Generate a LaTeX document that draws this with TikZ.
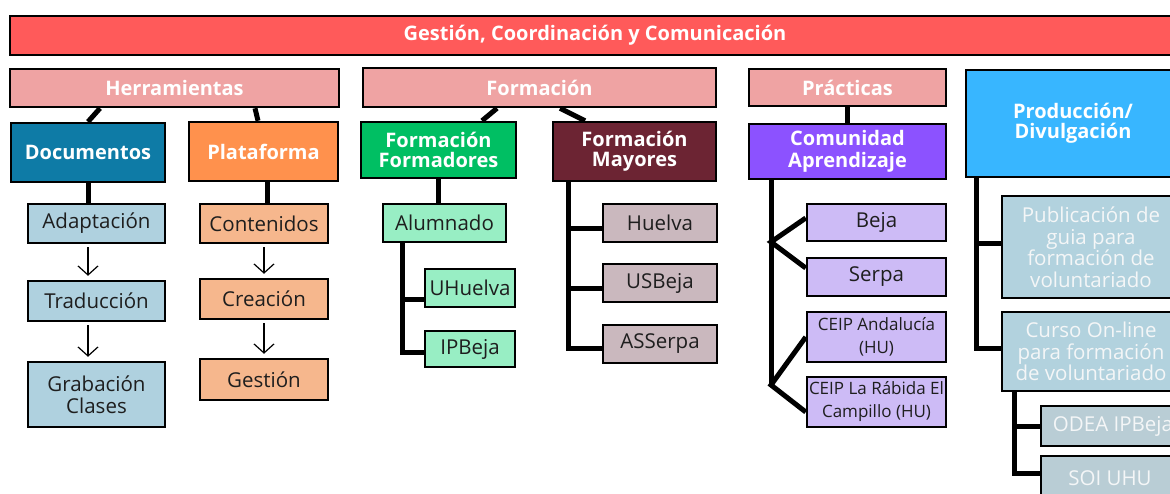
\documentclass[tikz,border=0pt]{standalone}
\usepackage{fontspec}
\setmainfont{Open Sans}
\usepackage{xcolor}
\usetikzlibrary{arrows.meta, positioning}

\definecolor{titlered}{HTML}{FF5A5A}
\definecolor{headpink}{HTML}{EFA3A3}
\definecolor{docsblue}{HTML}{0E7BA6}
\definecolor{platorange}{HTML}{FF914D}
\definecolor{ffgreen}{HTML}{00BF63}
\definecolor{fmmaroon}{HTML}{6C2433}
\definecolor{capurple}{HTML}{8C52FF}
\definecolor{prodblue}{HTML}{38B6FF}
\definecolor{lightblue}{HTML}{AFD1DF}
\definecolor{lightorange}{HTML}{F6B78D}
\definecolor{lightgreen}{HTML}{98EEC4}
\definecolor{lightmauve}{HTML}{CAB8BE}
\definecolor{lightviolet}{HTML}{CDBBF6}
\definecolor{pubblue}{HTML}{B2D2DE}
\definecolor{subgray}{HTML}{B9CDD5}
\definecolor{txtdark}{HTML}{1E1E1E}
\definecolor{txtlight}{HTML}{F4F6F7}

\tikzset{
    box/.style={draw=black, line width=2.5pt, inner sep=0pt, align=center,
        text=txtdark, font=\fontsize{20.5}{21.5}\selectfont},
    headbox/.style={box, text=white, font=\bfseries\fontsize{20}{20}\selectfont},
    smallbox/.style={box, font=\fontsize{17}{23}\selectfont},
    palebox/.style={box, text=txtlight, font=\fontsize{20.5}{21.5}\selectfont},
    link/.style={line width=5pt},
    flow/.style={-{Straight Barb[length=9pt,width=20pt]}, line width=1.2pt,
        shorten <=3pt, shorten >=4pt},
}

\begin{document}
\begin{tikzpicture}[x=1pt, y=-1pt]
    \fill[white] (0,0) rectangle (1170,493);
    \useasboundingbox (0,0) rectangle (1170,493);
    \clip (0,0) rectangle (1170,493);

    % top bar and the four areas
    \node[headbox, fill=titlered, minimum width=1170, minimum height=39] (title) at (595,35.5)
        {Gestión, Coordinación y Comunicación};
    \node[headbox, fill=headpink, minimum width=329, minimum height=38] (herr) at (174.5,88) {Herramientas};
    \node[headbox, fill=headpink, minimum width=353, minimum height=39] (form) at (539.5,87.5) {Formación};
    \node[headbox, fill=headpink, minimum width=197, minimum height=37] (prac) at (847.5,87.5) {Prácticas};
    \node[headbox, fill=prodblue, minimum width=214, minimum height=107] (prod) at (1073,123.5)
        {Producción/\\Divulgación};

    % second level
    \node[headbox, fill=docsblue, minimum width=154, minimum height=59] (docs) at (88,152.5) {Documentos};
    \node[headbox, fill=platorange, minimum width=149, minimum height=59] (plat) at (263.5,151.5) {Plataforma};
    \node[headbox, fill=ffgreen, minimum width=155, minimum height=56] (ffor) at (438.5,150)
        {Formación\\Formadores};
    \node[headbox, fill=fmmaroon, minimum width=163, minimum height=59] (fmay) at (634.5,151.5)
        {Formación\\Mayores};
    \node[headbox, fill=capurple, font=\bfseries\fontsize{20}{21.5}\selectfont,
        minimum width=197, minimum height=55] (comu) at (847.5,151.5) {Comunidad\\Aprendizaje};

    % Herramientas
    \node[box, fill=lightblue, minimum width=137, minimum height=39] (adap) at (96.5,223.5) {Adaptación};
    \node[box, fill=lightblue, minimum width=137, minimum height=40] (trad) at (96.5,301) {Traducción};
    \node[box, fill=lightblue, minimum width=137, minimum height=65] (grab) at (96.5,394.5) {Grabación\\Clases};
    \node[box, fill=lightorange, minimum width=128, minimum height=39] (cont) at (264,223.5) {Contenidos};
    \node[box, fill=lightorange, minimum width=128, minimum height=40] (crea) at (264,299) {Creación};
    \node[box, fill=lightorange, minimum width=128, minimum height=41] (gest) at (264,379.5) {Gestión};

    % Formacion
    \node[box, fill=lightgreen, minimum width=123, minimum height=38] (alum) at (444.5,223) {Alumnado};
    \node[box, fill=lightgreen, minimum width=90, minimum height=38] (uhue) at (470,288) {UHuelva};
    \node[box, fill=lightgreen, minimum width=90, minimum height=36] (ipbe) at (470,349) {IPBeja};
    \node[box, fill=lightmauve, minimum width=114, minimum height=38] (huel) at (660,223) {Huelva};
    \node[box, fill=lightmauve, minimum width=114, minimum height=38] (usbe) at (660,283) {USBeja};
    \node[box, fill=lightmauve, minimum width=114, minimum height=38] (asse) at (660,344) {ASSerpa};

    % Practicas
    \node[box, fill=lightviolet, minimum width=139, minimum height=37] (beja) at (876.5,222.5) {Beja};
    \node[box, fill=lightviolet, minimum width=139, minimum height=38] (serp) at (876.5,277) {Serpa};
    \node[smallbox, fill=lightviolet, minimum width=139, minimum height=50] (ceia) at (876.5,337)
        {CEIP Andalucía\\(HU)};
    \node[smallbox, fill=lightviolet, minimum width=139, minimum height=50] (ceir) at (876.5,402)
        {CEIP La Rábida El\\Campillo (HU)};

    % Produccion
    \node[palebox, fill=pubblue, minimum width=178, minimum height=102] (publ) at (1091,247)
        {Publicación de\\guia para\\formación de\\voluntariado};
    \node[palebox, fill=pubblue, minimum width=178, minimum height=79] (curs) at (1091,351.5)
        {Curso On-line\\para formación\\de voluntariado};
    \node[palebox, fill=subgray, minimum width=144, minimum height=40] (odea) at (1113,426) {ODEA IPBeja};
    \node[palebox, fill=subgray, minimum width=138, minimum height=44] (soiu) at (1110,478) {SOI UHU};

    % connectors
    \draw[link] ([xshift=12pt]docs.north |- herr.south) -- (docs.north);
    \draw[link] ([xshift=-8.5pt]plat.north |- herr.south) -- ([xshift=-5.5pt]plat.north);
    \draw[link] ([xshift=58.5pt]ffor.north |- form.south) -- ([xshift=43.5pt]ffor.north);
    \draw[link] ([xshift=-74.5pt]fmay.north |- form.south) -- ([xshift=-49.5pt]fmay.north);
    \draw[link] (prac.south) -- (comu.north);

    \draw[link] (docs.south) -- (docs.south |- adap.north);
    \draw[link] ([xshift=3.5pt]plat.south) -- ([xshift=3.5pt]plat.south |- cont.north);
    \draw[link] (ffor.south) -- (ffor.south |- alum.north);

    \draw[flow] (adap.south -| docs.south) -- (trad.north -| docs.south);
    \draw[flow] (trad.south -| docs.south) -- (grab.north -| docs.south);
    \draw[flow] (cont.south) -- (crea.north);
    \draw[flow] (crea.south) -- (gest.north);

    \draw[link] ([xshift=-42.5pt]alum.south) |- ([yshift=-11pt]uhue.west);
    \draw[link] ([xshift=-42.5pt]alum.south) |- ([yshift=-3pt]ipbe.west);

    \draw[link] ([xshift=-66.5pt]fmay.south) |- ([yshift=-5pt]huel.west);
    \draw[link] ([xshift=-66.5pt]fmay.south) |- ([yshift=-5pt]usbe.west);
    \draw[link] ([xshift=-66.5pt]fmay.south) |- ([yshift=-4pt]asse.west);

    \coordinate (comuA) at (771,242);
    \coordinate (comuB) at (771,385);
    \draw[link] ([xshift=-76.5pt]comu.south) -- (comuB);
    \draw[link] ([yshift=4.5pt]beja.west) -- (comuA) -- ([yshift=9pt]serp.west);
    \draw[link] (ceia.west) -- (comuB) -- ([yshift=-10pt]ceir.west);

    \draw[link] ([xshift=12pt]prod.south west) |- ([yshift=4pt]publ.west);
    \draw[link] ([xshift=12pt]prod.south west) |- ([yshift=3.5pt]curs.west);
    \draw[link] ([xshift=14pt]curs.south west) |- (odea.west);
    \draw[link] ([xshift=14pt]curs.south west) |- ([yshift=5pt]soiu.west);
\end{tikzpicture}
\end{document}
